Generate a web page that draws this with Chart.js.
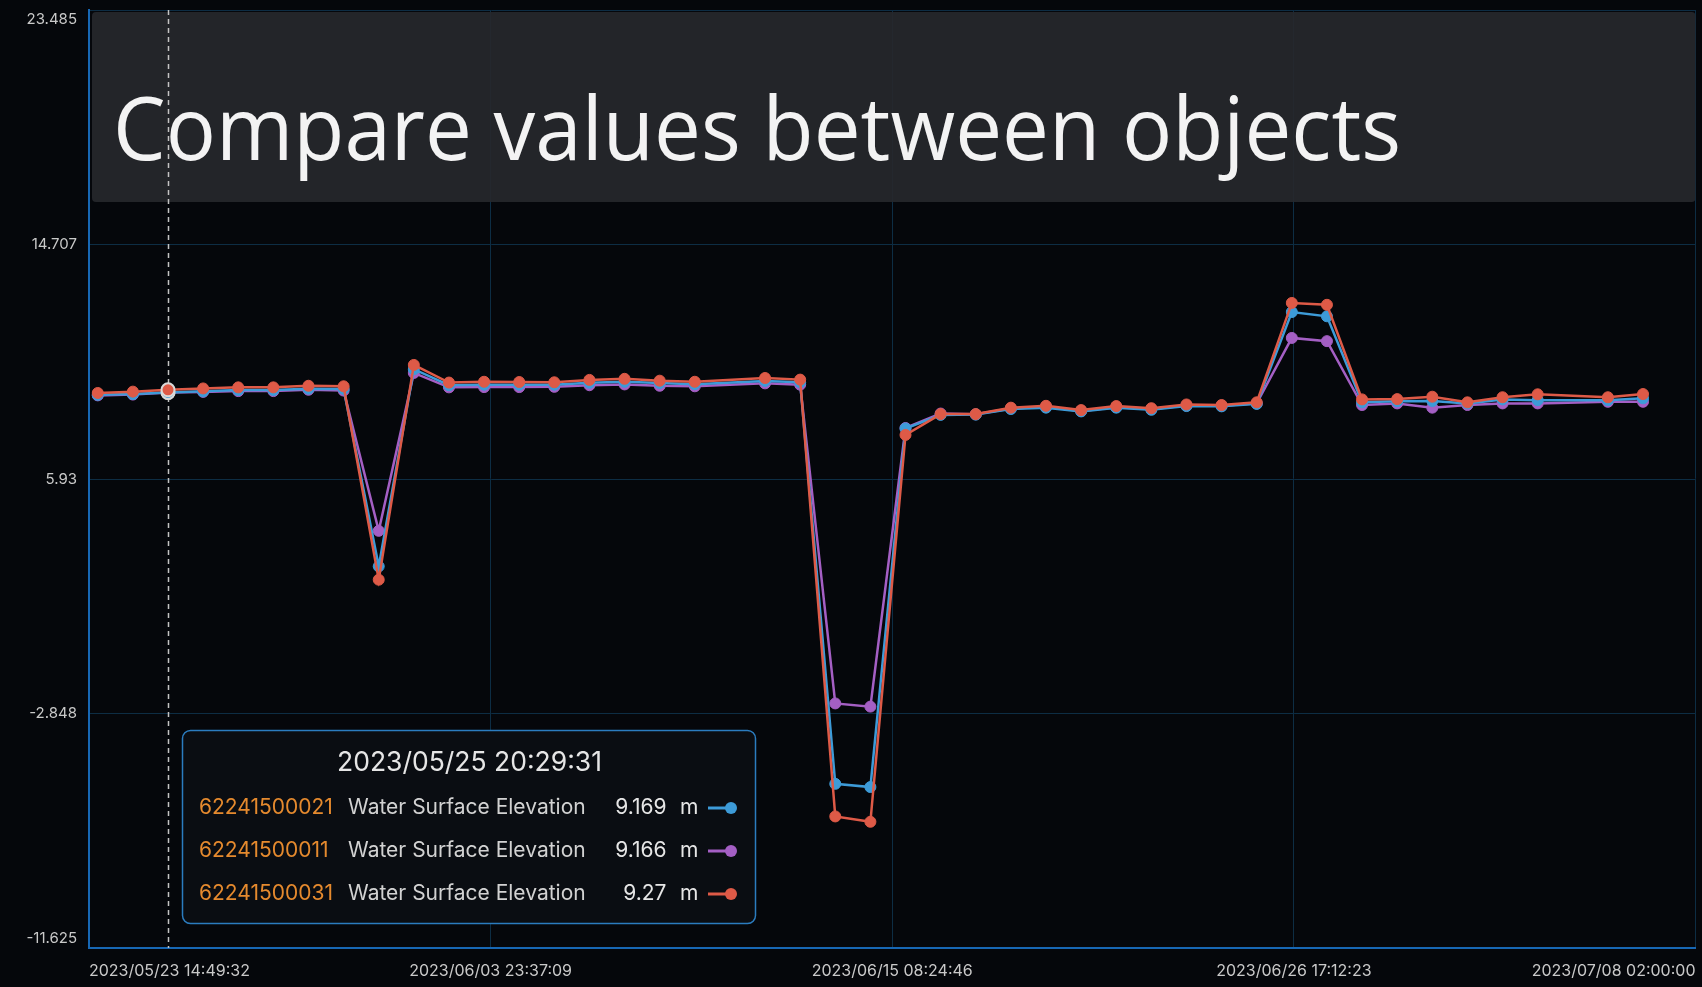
<!DOCTYPE html>
<html>
<head>
<meta charset="utf-8">
<script src="https://cdn.jsdelivr.net/npm/chart.js@4.4.0/dist/chart.umd.min.js"></script>
<style>
  html, body { margin:0; padding:0; background:#05070b; }
  canvas { display:block; }
</style>
</head>
<body>
<canvas id="chart" width="1702" height="987"></canvas>
<script>
// sample times (local time)
const times = [
  '2023-05-23T20:47', '2023-05-24T20:38', '2023-05-25T20:29:31', '2023-05-26T20:21', '2023-05-27T20:12',
  '2023-05-28T20:03', '2023-05-29T19:54', '2023-05-30T19:46', '2023-05-31T19:37', '2023-06-01T19:28',
  '2023-06-02T19:19', '2023-06-03T19:11', '2023-06-04T19:02', '2023-06-05T18:53', '2023-06-06T18:44',
  '2023-06-07T18:36', '2023-06-08T18:27', '2023-06-09T18:18', '2023-06-11T18:01', '2023-06-12T17:52',
  '2023-06-13T17:43', '2023-06-14T17:34', '2023-06-15T17:25', '2023-06-16T17:17', '2023-06-17T17:08',
  '2023-06-18T16:59', '2023-06-19T16:50', '2023-06-20T16:42', '2023-06-21T16:33', '2023-06-22T16:24',
  '2023-06-23T16:15', '2023-06-24T16:07', '2023-06-25T15:58', '2023-06-26T15:49', '2023-06-27T15:40',
  '2023-06-28T15:31', '2023-06-29T15:23', '2023-06-30T15:14', '2023-07-01T15:05', '2023-07-02T14:56',
  '2023-07-03T14:48', '2023-07-05T14:30', '2023-07-06T14:21'
];

const elev021 = [
  9.08, 9.11, 9.169, 9.21, 9.26, 9.26, 9.31, 9.30, 2.66, 10.04,
  9.44, 9.46, 9.46, 9.46, 9.53, 9.57, 9.52, 9.48, 9.60, 9.55,
  -5.48, -5.60, 7.82, 8.33, 8.34, 8.55, 8.60, 8.46, 8.60, 8.52,
  8.66, 8.65, 8.74, 12.18, 12.02, 8.80, 8.84, 8.85, 8.76, 8.91,
  8.88, 8.88, 8.95
];
const elev011 = [
  9.06, 9.09, 9.166, 9.19, 9.22, 9.22, 9.27, 9.24, 3.99, 9.90,
  9.36, 9.37, 9.37, 9.38, 9.44, 9.47, 9.42, 9.40, 9.51, 9.46,
  -2.47, -2.59, 7.84, 8.38, 8.35, 8.57, 8.63, 8.48, 8.62, 8.55,
  8.68, 8.67, 8.76, 11.21, 11.09, 8.70, 8.76, 8.60, 8.70, 8.76,
  8.76, 8.82, 8.82
];
const elev031 = [
  9.15, 9.20, 9.27, 9.32, 9.36, 9.36, 9.42, 9.40, 2.16, 10.20,
  9.54, 9.57, 9.56, 9.55, 9.64, 9.68, 9.61, 9.57, 9.71, 9.65,
  -6.70, -6.90, 7.58, 8.36, 8.36, 8.60, 8.67, 8.51, 8.66, 8.58,
  8.72, 8.70, 8.80, 12.52, 12.45, 8.91, 8.92, 9.01, 8.80, 8.99,
  9.10, 8.99, 9.11
];

const stationIds = ['62241500021', '62241500011', '62241500031'];
const stationColors = ['#3d9bd8', '#a45fc4', '#de5a47'];
const paramName = 'Water Surface Elevation';
const unit = 'm';
const titleText = 'Compare values between objects';

const xTickLabels = ['2023/05/23 14:49:32', '2023/06/03 23:37:09', '2023/06/15 08:24:46', '2023/06/26 17:12:23', '2023/07/08 02:00:00'];
const yTickLabels = ['-11.625', '-2.848', '5.93', '14.707', '23.485'];
const hoverIndex = 2;

const toTs = s => new Date(s.replace(/\//g, '-').replace(' ', 'T')).getTime();
const xTickValues = xTickLabels.map(toTs);
const yTickValues = yTickLabels.map(Number);

const pad = n => String(n).padStart(2, '0');
function fmtDate(ts){
  const d = new Date(ts);
  return d.getFullYear() + '/' + pad(d.getMonth()+1) + '/' + pad(d.getDate()) + ' ' +
    pad(d.getHours()) + ':' + pad(d.getMinutes()) + ':' + pad(d.getSeconds());
}

const allSeries = [elev021, elev011, elev031];

function makeDataset(i, order){
  const color = stationColors[i];
  return {
    label: stationIds[i],
    data: allSeries[i].map((v, k) => ({ x: toTs(times[k]), y: v })),
    borderColor: color,
    backgroundColor: color,
    borderWidth: 2.5,
    tension: 0,
    order,
    pointRadius: c => c.dataIndex === hoverIndex ? 6.5 : 5.5,
    pointBorderWidth: c => c.dataIndex === hoverIndex ? 2 : 1,
    pointBorderColor: c => c.dataIndex === hoverIndex ? '#d9d9d9' : color,
    pointBackgroundColor: color
  };
}

const decor = {
  id: 'decor',
  beforeDraw(chart){
    const { ctx, width, height } = chart;
    ctx.save();
    ctx.fillStyle = '#05070b';
    ctx.fillRect(0, 0, width, height);
    ctx.restore();
  },
  beforeDatasetsDraw(chart){
    const { ctx, chartArea: a, scales: { x } } = chart;
    ctx.save();
    // title banner
    ctx.fillStyle = 'rgba(38,40,44,0.92)';
    ctx.beginPath();
    ctx.roundRect(a.left + 3, a.top + 2, a.right - a.left - 3, 190, 4);
    ctx.fill();
    ctx.font = '88px "Open Sans"';
    ctx.fillStyle = '#f3f3f3';
    ctx.textBaseline = 'alphabetic';
    const w = ctx.measureText(titleText).width;
    ctx.translate(113, 160);
    ctx.scale(1288 / w, 1);
    ctx.fillText(titleText, 0, 0);
    ctx.restore();

    // crosshair
    const hx = Math.round(x.getPixelForValue(toTs(times[hoverIndex]))) + 0.5;
    ctx.save();
    ctx.strokeStyle = '#c4c4c4';
    ctx.lineWidth = 1.5;
    ctx.setLineDash([5, 4]);
    ctx.beginPath();
    ctx.moveTo(hx, a.top);
    ctx.lineTo(hx, a.bottom);
    ctx.stroke();
    ctx.restore();
  },
  afterDraw(chart){
    const { ctx, scales: { y } } = chart;
    // y labels, top and bottom ones kept inside the axis
    ctx.save();
    ctx.font = '15px Inter';
    ctx.fillStyle = '#c9c9c9';
    ctx.textAlign = 'right';
    y.ticks.forEach((t, i) => {
      const py = y.getPixelForValue(t.value);
      ctx.textBaseline = i === 0 ? 'bottom' : (i === y.ticks.length - 1 ? 'top' : 'middle');
      ctx.fillText(yTickLabels[i], 77, i === 0 ? py - 2 : (i === y.ticks.length - 1 ? py + 2 : py));
    });
    ctx.restore();

    // hover box
    ctx.save();
    ctx.fillStyle = '#0a0d12';
    ctx.strokeStyle = '#2b7cbf';
    ctx.lineWidth = 1.5;
    ctx.beginPath();
    ctx.roundRect(182.5, 730.5, 573, 193, 8);
    ctx.fill();
    ctx.stroke();

    ctx.fillStyle = '#e6e6e6';
    ctx.font = '26.5px Inter';
    ctx.textAlign = 'center';
    ctx.textBaseline = 'middle';
    ctx.fillText(fmtDate(toTs(times[hoverIndex])), 469.5, 763);

    const rowY = [808, 851, 894];
    ctx.font = '21px Inter';
    allSeries.forEach((s, i) => {
      const ry = rowY[i];
      ctx.textAlign = 'left';
      ctx.fillStyle = '#e58a2e';
      ctx.fillText(stationIds[i], 199, ry);
      ctx.fillStyle = '#d2d2d2';
      ctx.fillText(paramName, 348, ry);
      ctx.textAlign = 'right';
      ctx.fillStyle = '#e6e6e6';
      ctx.fillText(String(Number(s[hoverIndex].toFixed(3))), 666.5, ry);
      ctx.textAlign = 'left';
      ctx.fillText(unit, 680, ry);
      ctx.strokeStyle = stationColors[i];
      ctx.lineWidth = 3;
      ctx.beginPath();
      ctx.moveTo(708, ry);
      ctx.lineTo(730, ry);
      ctx.stroke();
      ctx.fillStyle = stationColors[i];
      ctx.beginPath();
      ctx.arc(731, ry, 6, 0, Math.PI * 2);
      ctx.fill();
    });
    ctx.restore();
  }
};

new Chart(document.getElementById('chart').getContext('2d'), {
  type: 'line',
  data: { datasets: [ makeDataset(0, 1), makeDataset(1, 2), makeDataset(2, 0) ] },
  options: {
    responsive: false,
    animation: false,
    events: [],
    layout: { padding: { top: 10, right: 5, left: 0, bottom: 0 } },
    plugins: { legend: { display: false }, tooltip: { enabled: false } },
    scales: {
      x: {
        type: 'linear',
        min: xTickValues[0],
        max: xTickValues[xTickValues.length - 1],
        afterBuildTicks: s => { s.ticks = xTickValues.map(v => ({ value: v })); },
        afterFit: s => { s.height = 39; s.paddingLeft = 0; s.paddingRight = 0; },
        grid: { color: '#0d2d44', lineWidth: 1, drawTicks: false },
        border: { color: '#1767b4', width: 2 },
        ticks: {
          color: '#c9c9c9', font: { family: 'Inter', size: 16 }, padding: 14,
          align: 'inner', maxRotation: 0, autoSkip: false,
          callback: (v, i) => xTickLabels[i]
        }
      },
      y: {
        min: yTickValues[0],
        max: yTickValues[yTickValues.length - 1],
        afterBuildTicks: s => { s.ticks = yTickValues.map(v => ({ value: v })); },
        afterFit: s => { s.width = 89; },
        grid: { color: '#0d2d44', lineWidth: 1, drawTicks: false },
        border: { color: '#1767b4', width: 2 },
        ticks: { display: false }
      }
    }
  },
  plugins: [decor]
});
</script>
</body>
</html>
